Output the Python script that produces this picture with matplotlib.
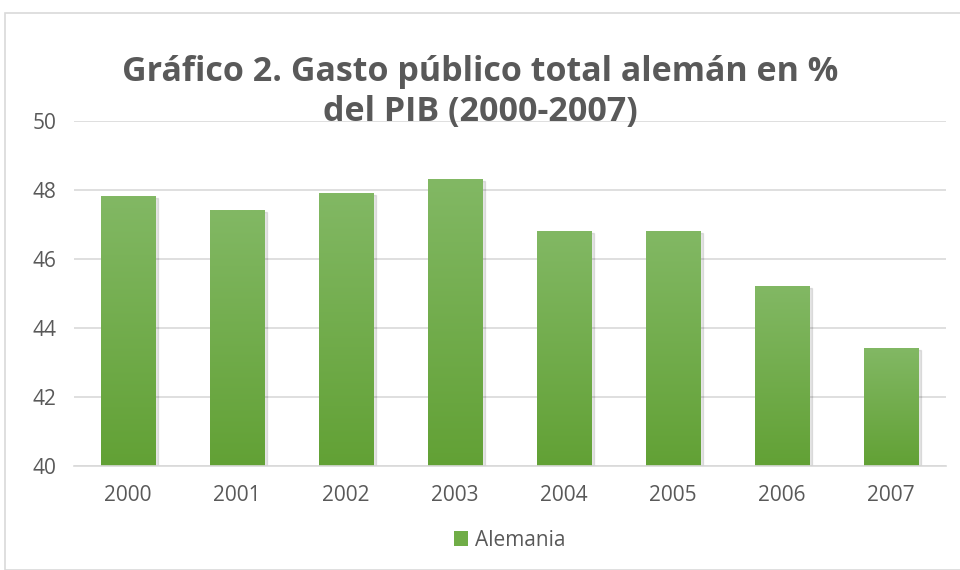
import numpy as np
import matplotlib.pyplot as plt
from matplotlib.patches import Rectangle

# DATA
years = ["2000", "2001", "2002", "2003", "2004", "2005", "2006", "2007"]
gasto = [47.8, 47.4, 47.9, 48.3, 46.8, 46.8, 45.2, 43.4]
yticks = [40, 42, 44, 46, 48, 50]
title = "Gráfico 2. Gasto público total alemán en %\ndel PIB (2000-2007)"
serie = "Alemania"

plt.rcParams['font.family'] = ['Open Sans', 'DejaVu Sans']
gris = "#595959"
ymin, ymax = 40, 50

fig = plt.figure(figsize=(9.6, 5.7), dpi=100)
# light frame round the chart
fig.patches.append(Rectangle((5/960, 0.0), 1.0, 1 - 13/570, transform=fig.transFigure,
                             fill=False, edgecolor="#d9d9d9", linewidth=1.2))

ax = fig.add_axes([73.5/960, 1 - 466/570, (945.5 - 73.5)/960, (466 - 121)/570])
x = np.arange(len(years))
bars = ax.bar(x, gasto, width=0.5, color="#70ad47", zorder=3, label=serie)

# vertical gradient inside each bar, light on top, darker at bottom
grad = np.linspace(0, 1, 256).reshape(-1, 1)
cmap = plt.matplotlib.colors.LinearSegmentedColormap.from_list("g", ["#62a135", "#82b864"])
for b in bars:
    bx, w, top = b.get_x(), b.get_width(), b.get_height()
    # soft shadow
    ax.add_patch(Rectangle((bx + 0.015, ymin), w + 0.01, top - ymin - 0.04, color="#000000",
                           alpha=0.10, zorder=2))
    ax.imshow(grad, extent=[bx, bx + w, ymin, top], origin="lower", cmap=cmap,
              aspect="auto", zorder=4)

ax.set_xlim(-0.5, len(years) - 0.5)
ax.set_ylim(ymin, ymax)
ax.set_yticks(yticks)
ax.set_xticks(x)
ax.set_xticklabels(years)
ax.grid(axis="y", color="#d9d9d9", linewidth=1.2, zorder=0)
for s in ["top", "right", "left"]:
    ax.spines[s].set_visible(False)
ax.spines["bottom"].set_color("#d9d9d9")
ax.spines["bottom"].set_linewidth(1.2)
ax.spines["bottom"].set_zorder(5)
ax.tick_params(length=0, labelsize=15, colors=gris, pad=14)
ax.tick_params(axis="y", pad=12)

fig.text(0.5, 1 - 92/570, title, ha="center", va="center", fontsize=24.5,
         fontweight="bold", color=gris, linespacing=1.25)

leg = ax.legend(loc="upper center", bbox_to_anchor=(0.5, -0.13), frameon=False,
                fontsize=15, handlelength=0.7, handleheight=0.7, handletextpad=0.3)
for t in leg.get_texts():
    t.set_color(gris)

fig.savefig("out.png", dpi=100)
